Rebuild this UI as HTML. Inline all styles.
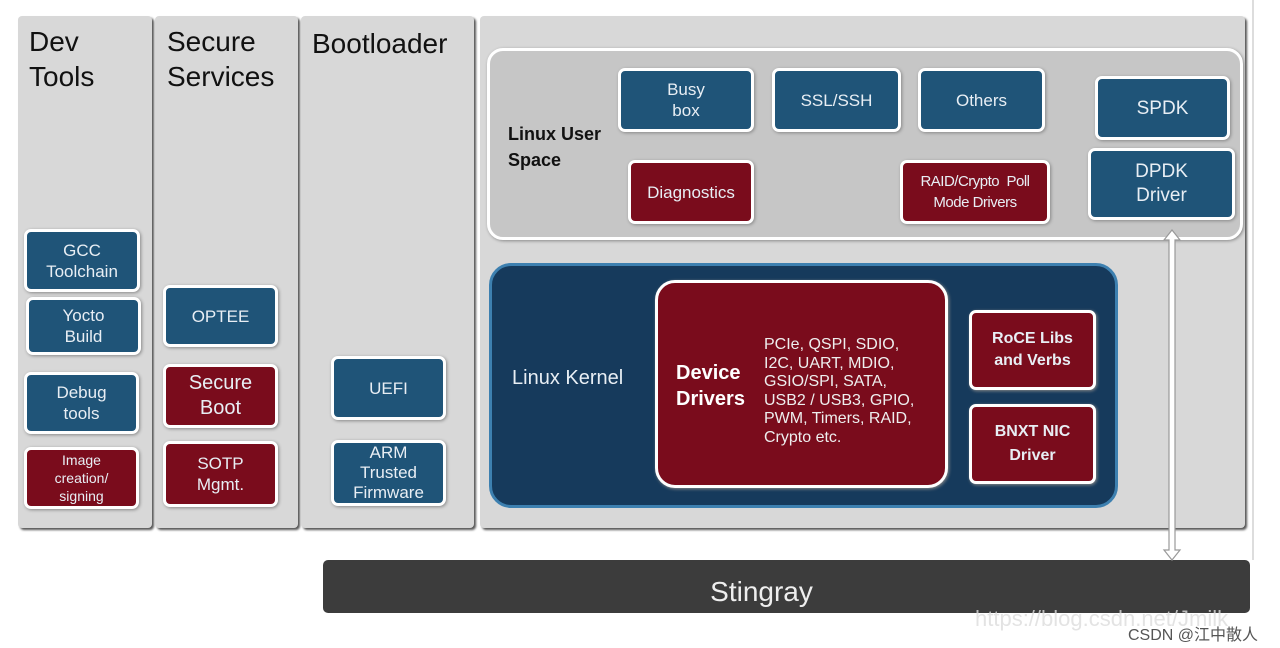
<!DOCTYPE html>
<html><head><meta charset="utf-8"><style>
body{margin:0;width:1280px;height:648px;background:#fff;position:relative;overflow:hidden;font-family:"Liberation Sans",Arial,sans-serif}
div{position:absolute;box-sizing:border-box}
.col{background:#d8d8d8;border-radius:4px;box-shadow:2px 2px 2px #555}
.h{font-size:28px;color:#111;line-height:35px}
.b{background:#1f5478;border:3px solid #fff;border-radius:7px;color:#e8eef4;display:flex;align-items:center;justify-content:center;text-align:center;box-shadow:1px 1px 3px #888;font-size:17px;line-height:21px}
.r{background:#7a0c1c}
</style></head><body>
<div class="col" style="left:18px;top:16px;width:134px;height:512px"></div>
<div class="col" style="left:155px;top:16px;width:143px;height:512px"></div>
<div class="col" style="left:301px;top:16px;width:173px;height:512px"></div>
<div class="col" style="left:480px;top:16px;width:765px;height:512px"></div>
<div style="left:1252px;top:0;width:2px;height:560px;background:#ddd"></div>
<div class="h" style="left:29px;top:24px">Dev<br>Tools</div>
<div class="h" style="left:167px;top:24px">Secure<br>Services</div>
<div class="h" style="left:312px;top:26px">Bootloader</div>

<div class="b" style="left:24px;top:229px;width:116px;height:63px">GCC<br>Toolchain</div>
<div class="b" style="left:26px;top:297px;width:115px;height:58px">Yocto<br>Build</div>
<div class="b" style="left:24px;top:372px;width:115px;height:62px">Debug<br>tools</div>
<div class="b r" style="left:24px;top:447px;width:115px;height:62px;font-size:14px;line-height:18px">Image<br>creation/<br>signing</div>
<div class="b" style="left:163px;top:285px;width:115px;height:62px">OPTEE</div>
<div class="b r" style="left:163px;top:364px;width:115px;height:64px;font-size:20px;line-height:25px">Secure<br>Boot</div>
<div class="b r" style="left:163px;top:441px;width:115px;height:66px">SOTP<br>Mgmt.</div>
<div class="b" style="left:331px;top:356px;width:115px;height:64px">UEFI</div>
<div class="b" style="left:331px;top:440px;width:115px;height:66px;line-height:20px">ARM<br>Trusted<br>Firmware</div>

<div style="left:487px;top:48px;width:756px;height:192px;background:#c6c6c6;border:3px solid #fff;border-radius:16px;box-shadow:1px 1px 3px #888"></div>
<div style="left:508px;top:121px;font-weight:bold;font-size:18px;line-height:26px;color:#111">Linux User<br>Space</div>
<div class="b" style="left:618px;top:68px;width:136px;height:64px">Busy<br>box</div>
<div class="b" style="left:772px;top:68px;width:129px;height:64px">SSL/SSH</div>
<div class="b" style="left:918px;top:68px;width:127px;height:64px">Others</div>
<div class="b" style="left:1095px;top:76px;width:135px;height:64px;font-size:19px">SPDK</div>
<div class="b" style="left:1088px;top:148px;width:147px;height:72px;font-size:19px;line-height:24px">DPDK<br>Driver</div>
<div class="b r" style="left:628px;top:160px;width:126px;height:64px">Diagnostics</div>
<div class="b r" style="left:900px;top:160px;width:150px;height:64px;font-size:15px;letter-spacing:-0.5px">RAID/Crypto&nbsp; Poll<br>Mode Drivers</div>

<div style="left:489px;top:263px;width:629px;height:245px;background:#163a5c;border:3px solid #3d80b0;border-radius:22px"></div>
<div style="left:512px;top:367px;color:#e8eef4;font-size:20px">Linux Kernel</div>
<div class="b r" style="left:655px;top:280px;width:293px;height:208px;border-radius:20px"></div>
<div style="left:676px;top:360px;color:#fff;font-weight:bold;font-size:20px;line-height:26px">Device<br>Drivers</div>
<div style="left:764px;top:336px;color:#eee;font-size:16px;line-height:18.5px">PCIe, QSPI, SDIO,<br>I2C, UART, MDIO,<br>GSIO/SPI, SATA,<br>USB2 / USB3, GPIO,<br>PWM, Timers, RAID,<br>Crypto etc.</div>
<div class="b r" style="left:969px;top:310px;width:127px;height:80px;font-weight:bold;font-size:16px;line-height:22px">RoCE Libs<br>and Verbs</div>
<div class="b r" style="left:969px;top:404px;width:127px;height:80px;font-weight:bold;font-size:16px;line-height:24px">BNXT NIC<br>Driver</div>

<div style="left:323px;top:560px;width:927px;height:53px;background:#3c3c3c;border-radius:5px;color:#eee;font-size:28px;display:flex;align-items:center;justify-content:center;padding-right:50px;padding-top:10px">Stingray</div>
<svg style="position:absolute;left:1158px;top:226px" width="30" height="340">
<path d="M14 4 L6 14 L11 14 L11 324 L6 324 L14 334 L22 324 L17 324 L17 14 L22 14 Z" fill="#fff" stroke="#999" stroke-width="1.2"/>
</svg>
<div style="left:975px;top:606px;color:rgba(220,220,220,0.8);font-size:22px">https://blog.csdn.net/Jmilk</div>
<div style="left:1128px;top:621px;color:#555;font-size:16px;font-family:'Liberation Sans','Noto Sans CJK SC',sans-serif">CSDN @江中散人</div>
</body></html>
